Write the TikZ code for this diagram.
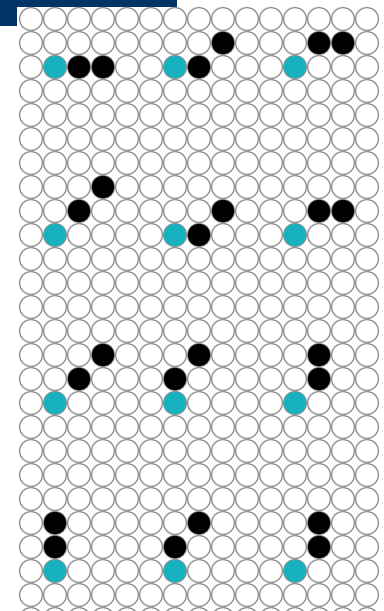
\documentclass[tikz,border=0pt]{standalone}
\definecolor{banner}{RGB}{0,51,102}
\definecolor{pegcyan}{RGB}{24,178,190}
\begin{document}
\begin{tikzpicture}[x=0.02cm, y=-0.02cm,
  hole/.style={circle, draw=gray!85, line width=0.75pt, fill=white, minimum size=0.46cm, inner sep=0pt},
  blackpeg/.style={circle, fill=black, minimum size=0.45cm, inner sep=0pt},
  cyanpeg/.style={circle, fill=pegcyan, minimum size=0.45cm, inner sep=0pt}
]
\useasboundingbox (0,0) rectangle (383,611);
\clip (0,0) rectangle (383,611);
\fill[banner] (0,0) rectangle (177,7);
\fill[banner] (0,0) rectangle (17,26);
% grid of holes
\foreach \r in {0,...,25}
  \foreach \c in {0,...,14}
    \node[hole] (h-\c-\r) at ({31+24*\c},{19+24*\r}) {};
% row 1
\node[cyanpeg]  (s1) at (h-1-2) {};
\node[blackpeg] (a1) at (h-2-2) {};
\node[blackpeg] (b1) at (h-3-2) {};
\node[cyanpeg]  (s2) at (h-6-2) {};
\node[blackpeg] (a2) at (h-7-2) {};
\node[blackpeg] (b2) at (h-8-1) {};
\node[cyanpeg]  (s3) at (h-11-2) {};
\node[blackpeg] (a3) at (h-12-1) {};
\node[blackpeg] (b3) at (h-13-1) {};
% row 2
\node[cyanpeg]  (s4) at (h-1-9) {};
\node[blackpeg] (a4) at (h-2-8) {};
\node[blackpeg] (b4) at (h-3-7) {};
\node[cyanpeg]  (s5) at (h-6-9) {};
\node[blackpeg] (a5) at (h-7-9) {};
\node[blackpeg] (b5) at (h-8-8) {};
\node[cyanpeg]  (s6) at (h-11-9) {};
\node[blackpeg] (a6) at (h-12-8) {};
\node[blackpeg] (b6) at (h-13-8) {};
% row 3
\node[cyanpeg]  (s7) at (h-1-16) {};
\node[blackpeg] (a7) at (h-2-15) {};
\node[blackpeg] (b7) at (h-3-14) {};
\node[cyanpeg]  (s8) at (h-6-16) {};
\node[blackpeg] (a8) at (h-6-15) {};
\node[blackpeg] (b8) at (h-7-14) {};
\node[cyanpeg]  (s9) at (h-11-16) {};
\node[blackpeg] (a9) at (h-12-15) {};
\node[blackpeg] (b9) at (h-12-14) {};
% row 4
\node[cyanpeg]  (s10) at (h-1-23) {};
\node[blackpeg] (a10) at (h-1-22) {};
\node[blackpeg] (b10) at (h-1-21) {};
\node[cyanpeg]  (s11) at (h-6-23) {};
\node[blackpeg] (a11) at (h-6-22) {};
\node[blackpeg] (b11) at (h-7-21) {};
\node[cyanpeg]  (s12) at (h-11-23) {};
\node[blackpeg] (a12) at (h-12-22) {};
\node[blackpeg] (b12) at (h-12-21) {};
\end{tikzpicture}
\end{document}
